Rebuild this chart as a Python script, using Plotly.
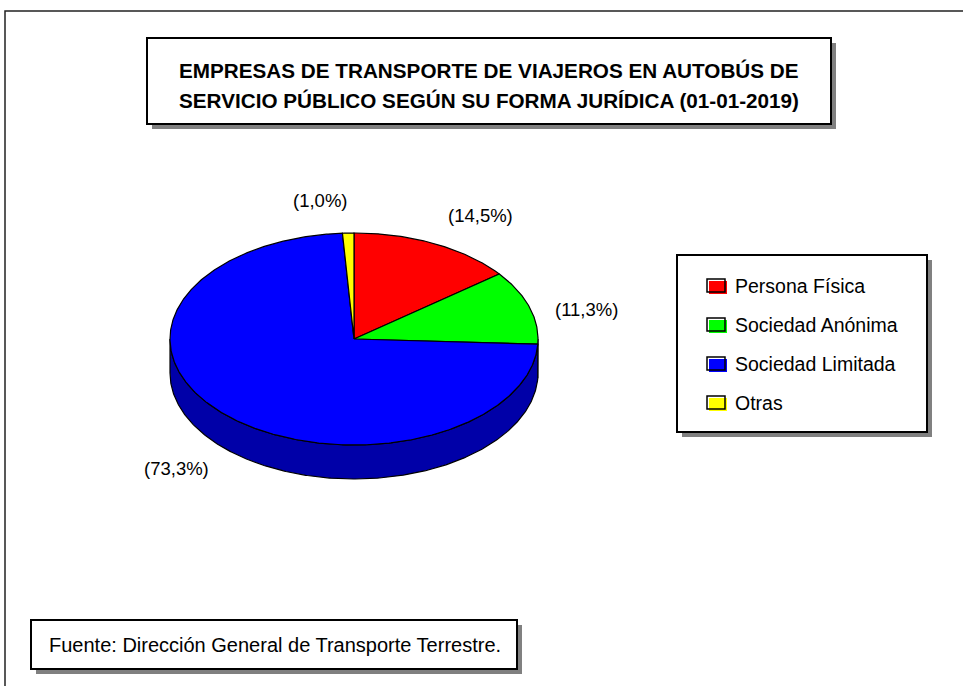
import numpy as np
import plotly.graph_objects as go

# ---------------- data ----------------
categories = ["Persona Física", "Sociedad Anónima", "Sociedad Limitada", "Otras"]
values = [14.5, 11.3, 73.3, 1.0]
value_labels = ["(14,5%)", "(11,3%)", "(73,3%)", "(1,0%)"]
title_lines = ["EMPRESAS DE TRANSPORTE DE VIAJEROS EN AUTOBÚS DE",
               "SERVICIO PÚBLICO SEGÚN SU FORMA JURÍDICA (01-01-2019)"]
source_text = "Fuente: Dirección General de Transporte Terrestre."

# ---------------- style ----------------
top_colors = ["#FF0000", "#00FF00", "#0000FF", "#FFFF00"]
side_colors = ["#B00000", "#00B400", "#0000A8", "#B0B000"]
W, H = 963, 686
CX, CY, RX, RY, DEPTH = 354, 339, 184, 106, 34
FONT = "Liberation Sans, Arial, sans-serif"
label_pos = [(480, 215), (586, 309), (176, 468), (320, 200)]

fig = go.Figure()

total = sum(values)
bounds = np.concatenate([[0], np.cumsum(values)]) / total * 360.0


def ell(theta_deg, dy=0.0):
    t = np.radians(theta_deg)
    return CX + RX * np.sin(t), CY - RY * np.cos(t) + dy


# side walls (visible front half: 90..270 deg clockwise from top)
for i in range(len(values)):
    a0, a1 = bounds[i], bounds[i + 1]
    lo, hi = max(a0, 90.0), min(a1, 270.0)
    if lo >= hi:
        continue
    th = np.linspace(lo, hi, max(3, int((hi - lo) * 2)))
    xt, yt = ell(th)
    xb, yb = ell(th[::-1], DEPTH)
    xs = np.concatenate([xt, xb, xt[:1]])
    ys = np.concatenate([yt, yb, yt[:1]])
    fig.add_trace(go.Scatter(x=xs, y=ys, mode="lines", fill="toself",
                             fillcolor=side_colors[i],
                             line=dict(color="black", width=1.2),
                             hoverinfo="skip", showlegend=False))

# top faces
for i in range(len(values)):
    a0, a1 = bounds[i], bounds[i + 1]
    th = np.linspace(a0, a1, max(3, int((a1 - a0) * 2)))
    xa, ya = ell(th)
    xs = np.concatenate([[CX], xa, [CX]])
    ys = np.concatenate([[CY], ya, [CY]])
    fig.add_trace(go.Scatter(x=xs, y=ys, mode="lines", fill="toself",
                             fillcolor=top_colors[i],
                             line=dict(color="black", width=1.2),
                             name=categories[i],
                             hoverinfo="name", showlegend=False))

shapes = []
annotations = []


def shadow_box(x0, y0, x1, y1, off=5):
    shapes.append(dict(type="rect", xref="x", yref="y", x0=x0 + off, y0=y0 + off,
                       x1=x1 + off, y1=y1 + off, fillcolor="#808080",
                       line=dict(width=0)))
    shapes.append(dict(type="rect", xref="x", yref="y", x0=x0, y0=y0, x1=x1, y1=y1,
                       fillcolor="white", line=dict(color="black", width=2)))


# outer frame (left and top edges)
shapes.append(dict(type="path", xref="x", yref="y",
                   path=f"M 5 {H} L 5 11 L {W} 11",
                   line=dict(color="#222222", width=1.5)))

# title box
shadow_box(147, 38, 831, 124)
for k, line in enumerate(title_lines):
    annotations.append(dict(x=489, y=70 + 30 * k, xref="x", yref="y",
                            text="<b>" + line + "</b>",
                            showarrow=False, xanchor="center", yanchor="middle",
                            font=dict(family=FONT, size=20.7, color="black")))

# value labels
for i, (lx, ly) in enumerate(label_pos):
    annotations.append(dict(x=lx, y=ly, xref="x", yref="y", text=value_labels[i],
                            showarrow=False, xanchor="center", yanchor="middle",
                            font=dict(family=FONT, size=18.5, color="black")))

# legend box
shadow_box(677, 255, 927, 432)
for i, cat in enumerate(categories):
    ry = 286 + 39 * i
    shapes.append(dict(type="rect", xref="x", yref="y", x0=709, y0=ry - 5,
                       x1=727, y1=ry + 8, fillcolor=top_colors[i], line=dict(width=0)))
    shapes.append(dict(type="rect", xref="x", yref="y", x0=707, y0=ry - 7,
                       x1=725, y1=ry + 6, fillcolor="rgba(0,0,0,0)",
                       line=dict(color="black", width=1.5)))
    annotations.append(dict(x=733, y=ry, xref="x", yref="y", text=cat,
                            showarrow=False, xanchor="left", yanchor="middle",
                            font=dict(family=FONT, size=19.5, color="black")))

# source box
shadow_box(31, 620, 517, 669)
annotations.append(dict(x=275, y=645, xref="x", yref="y", text=source_text,
                        showarrow=False, xanchor="center", yanchor="middle",
                        font=dict(family=FONT, size=20, color="black")))

fig.update_layout(
    width=W, height=H,
    margin=dict(l=0, r=0, t=0, b=0),
    paper_bgcolor="white", plot_bgcolor="white",
    xaxis=dict(range=[0, W], visible=False, fixedrange=True),
    yaxis=dict(range=[H, 0], visible=False, fixedrange=True),
    shapes=shapes, annotations=annotations,
    showlegend=False,
)

fig.write_html("out.html", config={"displayModeBar": False},
               post_script="document.body.style.margin='0';document.body.style.overflow='hidden';")
